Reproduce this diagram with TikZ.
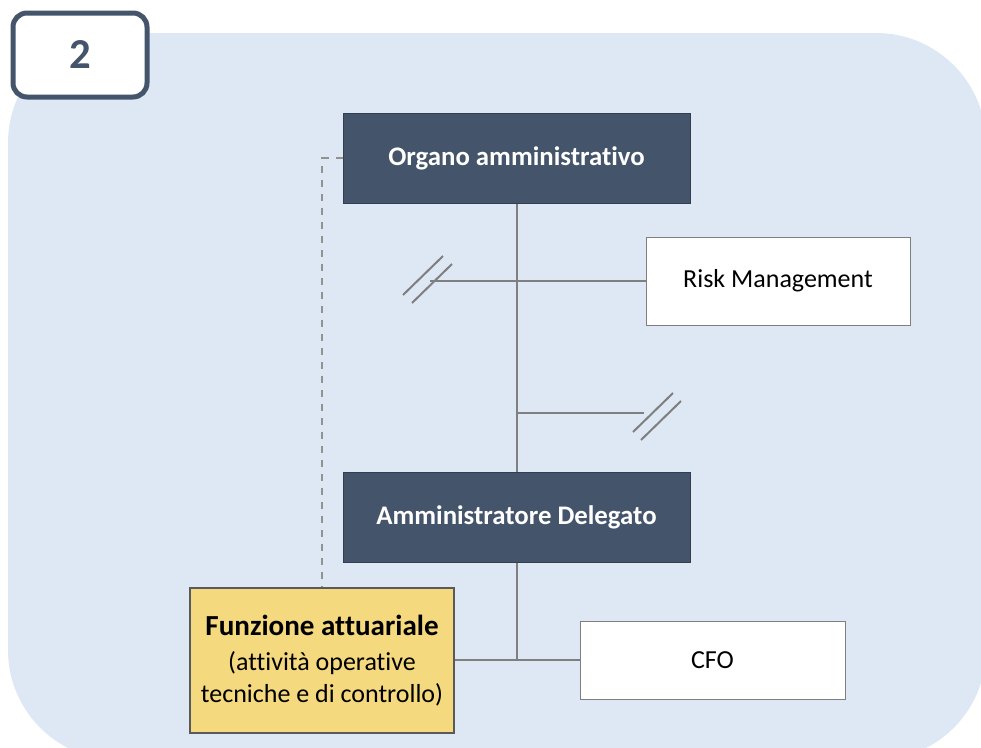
\documentclass[tikz,border=0pt]{standalone}
\usepackage{fontspec}
\setmainfont{Carlito}[Ligatures={NoCommon}]
\usetikzlibrary{calc}
\definecolor{slate}{HTML}{44546A}
\definecolor{panel}{HTML}{DDE8F4}
\definecolor{linegray}{HTML}{7F7F7F}
\definecolor{gold}{HTML}{F5D97F}
\newdimen\px \px=0.75pt
% two parallel strokes marking an interrupted line
\newcommand{\cutmark}[3]{%
  \draw[conn] ($(#1)+(#2)$) -- ++(40,-39);
  \draw[conn] ($(#1)+(#3)$) -- ++(40,-39);}
\begin{document}
\begin{tikzpicture}[
    x=0.75pt, y=-0.75pt,
    every node/.style={font=\fontsize{19.5}{22.5}\selectfont, align=center, inner sep=0pt},
    darkbox/.style={fill=slate, draw=slate!75!black, line width=1\px, text=white,
      font=\fontsize{20.1}{22.5}\selectfont\bfseries,
      minimum width=347\px, minimum height=90\px},
    whitebox/.style={fill=white, draw=linegray, line width=1\px,
      minimum width=264\px, minimum height=88\px},
    conn/.style={draw=linegray, line width=2\px},
    dashline/.style={draw=linegray!85, line width=2\px, dash pattern=on 7\px off 7\px}
  ]
  \useasboundingbox (0,0) rectangle (981,747);
  % Sfondo
  \begin{scope}
    \clip (0,0) rectangle (981,747);
    \fill[panel, rounded corners=110\px] (8,33) rectangle (986,760);
  \end{scope}
  \node[draw=slate, fill=white, line width=5\px, rounded corners=14\px,
    minimum width=134\px, minimum height=84\px, text=slate,
    font=\fontsize{32}{32}\selectfont\bfseries] (badge) at (80,55) {2};

  % Nodi
  \node[darkbox] (organo) at (516.5,158) {Organo amministrativo};
  \node[darkbox] (delegato) at (516.5,517) {Amministratore Delegato};
  \node[whitebox] (risk) at (778,281) {Risk Management};
  \node[whitebox, minimum width=265\px, minimum height=78\px] (cfo) at (712.5,660) {CFO};
  \node[fill=gold, draw=black!65, line width=1.5\px, minimum width=264\px,
    minimum height=145\px, font=\fontsize{19.5}{23.5}\selectfont] (funzione) at (322,660.5)
    {{\bfseries\fontsize{21.8}{23.5}\selectfont Funzione attuariale}\\[4\px]
     (attività operative\\tecniche e di controllo)};

  % Collegamenti
  \coordinate (cutleft) at (430,281);
  \coordinate (cutright) at (644,413);
  \coordinate (dashx) at (322,0);
  \draw[conn] (organo.south) -- (delegato.north);
  \draw[conn] (cutleft) -- (risk.west);
  \draw[conn] (organo.south |- cutright) -- (cutright);
  \cutmark{cutleft}{-27,14}{-18,22}
  \cutmark{cutright}{-11,19}{-3,27}
  \draw[conn] (delegato.south) -- (delegato.south |- cfo.west);
  \draw[conn] (funzione.east |- cfo.west) -- (cfo.west);
  \draw[dashline] (organo.west) -- (organo.west -| dashx) -- (dashx |- funzione.north);
\end{tikzpicture}
\end{document}
